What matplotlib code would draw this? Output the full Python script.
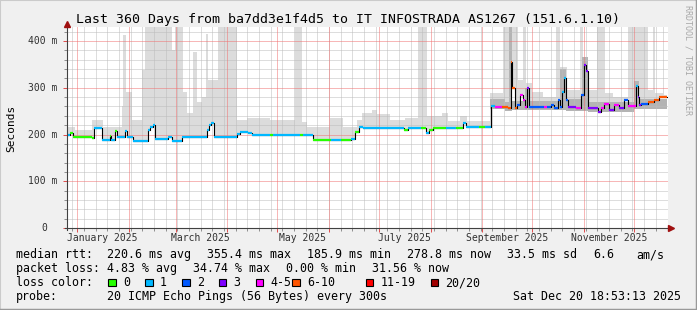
import datetime as dt

import matplotlib

matplotlib.use("Agg")
import matplotlib.pyplot as plt
import numpy as np
from matplotlib.lines import Line2D
from matplotlib.patches import Rectangle

W, H, DPI = 697, 310, 100
MONO = "DejaVu Sans Mono"

# ---- data (day numbers counted from 2025-01-01) ----
END = 353.79            # Sat Dec 20 18:53:13 2025
START = END - 360.0

LOSS_COLORS = ["#26ff00", "#00b8ff", "#0059ff", "#7e00ff", "#ff00ff", "#ff5500", "#ff0000", "#a10000"]
LOSS_LABELS = ["0", "1", "2", "3", "4-5", "6-10", "11-19", "20/20"]

# median rtt (ms), step changes, with loss colour index
med_day = [-6.2, -4.4, -2.6, 8.8, 10.0, 13.6, 14.8, 19.6, 20.2, 22.6, 23.8, 28.6, 29.8, 33.4,
           42.4, 43.6, 45.4, 46.6, 54.4, 56.8, 62.8, 77.8, 79.0, 80.2, 82.0, 95.8, 97.6, 102.4,
           104.8, 115.6, 117.4, 133.6, 135.4, 141.2, 152.0, 158.0, 164.0, 166.4, 168.8, 171.2,
           195.8, 198.2, 206.0, 209.0, 210.8, 213.2, 221.0, 227.0, 231.2, 233.0, 240.8, 244.4,
           248.0, 250.4, 254.6, 258.2, 260.0, 260.6, 262.4, 263.6, 265.4, 267.2, 268.4, 269.6,
           270.8, 279.8, 281.6, 284.0, 285.8, 288.2, 289.4, 290.6, 291.8, 293.0, 294.2, 299.0,
           302.0, 303.8, 305.0, 306.2, 312.2, 314.0, 315.8, 318.8, 321.8, 324.8, 327.8, 330.2,
           335.0, 336.2, 336.8, 338.0, 342.2, 345.8, 348.8]
med_ms = [200, 204, 194, 193, 213, 215, 188, 196, 189, 208, 194, 208, 194, 187,
          210, 217, 220, 190, 195, 187, 194, 209, 220, 225, 194, 201, 205, 203,
          198, 198, 198, 198, 198, 188, 189, 188, 190, 206, 217, 215,
          210, 215, 215, 204, 210, 214, 214, 214, 225, 216, 216, 216,
          261, 258, 258, 256, 356, 299, 256, 263, 284, 274, 259, 299,
          258, 259, 259, 263, 256, 274, 259, 290, 320, 274, 258, 256,
          284, 349, 335, 256, 249, 256, 266, 253, 263, 256, 274, 261,
          304, 281, 263, 265, 270, 274, 280]
med_loss = [1, 0, 0, 0, 1, 1, 1, 0, 1, 0, 1, 1, 1, 1,
            1, 1, 1, 1, 1, 1, 1, 1, 1, 1, 1, 1, 1, 1,
            1, 0, 1, 0, 1, 0, 1, 0, 1, 0, 1, 1,
            0, 1, 0, 1, 0, 0, 1, 0, 1, 1, 0, 1,
            1, 4, 5, 5, 5, 5, 5, 2, 4, 4, 4, 3,
            2, 4, 2, 2, 2, 2, 2, 1, 1, 2, 3, 4,
            2, 3, 3, 3, 3, 4, 4, 3, 4, 3, 2, 4,
            1, 3, 3, 2, 5, 5, 5]

# smoke: highest ping per step (ms), 430 = off the top
smoke_day = [-6.2, -5.5, -1.4, 8.8, 15.4, 26.8, 27.4, 29.2, 32.8, 38.8, 40.6, 56.8, 58.6,
             63.4, 65.8, 69.4, 71.8, 74.8, 77.2, 78.4, 84.6, 95.8, 101.8, 115.6, 130.6, 134.8,
             137.8, 151.6, 159.4, 167.8, 170.8, 176.8, 179.8, 187.6, 196.6, 204.4, 209.8, 218.8,
             222.4, 229.6, 233.8, 247.6, 255.4, 264.4, 267.4, 269.2, 272.8, 279.4, 287.2, 289.6,
             293.8, 301.6, 303.4, 305.8, 311.8, 316.6, 321.4, 330.4, 342.4, 345.4, 346.6, 351.4,
             352.0]
smoke_hi = [352, 217, 210, 231, 217, 260, 413, 290, 231, 338, 430, 380, 430,
            292, 245, 377, 270, 281, 416, 317, 430, 231, 235, 232, 430, 226,
            217, 235, 217, 230, 245, 253, 243, 231, 235, 430, 239, 245,
            229, 239, 229, 288, 430, 317, 430, 310, 292, 281, 430, 345,
            295, 430, 356, 295, 430, 288, 281, 430, 295, 430, 288, 430,
            284]

# darker smoke band (most pings), 0 = none
dark_day = [-6.2, 63.4, 65.8, 247.6, 256.6, 259.0, 260.8, 268.4, 270.8, 289.6, 293.4, 302.8,
            306.4, 334.0, 336.8]
dark_lo = [0, 190, 0, 255, 250, 250, 252, 252, 252, 252, 250, 250, 248, 255, 255]
dark_hi = [0, 292, 0, 275, 270, 430, 272, 300, 272, 340, 275, 365, 270, 315, 275]

y_ticks = [0, 100, 200, 300, 400]
y_labels = ["0", "100 m", "200 m", "300 m", "400 m"]
x_label_months = [1, 3, 5, 7, 9, 11]

legend_rows = [
    ["median rtt:", "220.6 ms avg", "355.4 ms max", "185.9 ms min", "278.8 ms now", "33.5 ms sd", "6.6", "am/s"],
    ["packet loss:", "4.83 % avg", "34.74 % max", "0.00 % min", "31.56 % now"],
    ["loss color:"],
    ["probe:", "20 ICMP Echo Pings (56 Bytes) every 300s", "Sat Dec 20 18:53:13 2025"],
]
# left edge (px) of every legend item
legend_x = [
    [16, 107.3, 207.3, 307.3, 407.3, 507.3, 593.3, 636],
    [16, 107.3, 193.3, 286.3, 372.3],
    [16],
    [16, 107.3, 513],
]
legend_y = [254.5, 268.5, 282.5, 296.5]


def doy(month, day=1):
    return (dt.date(2025, month, day) - dt.date(2025, 1, 1)).days


def step_at(days, vals, grid):
    idx = np.searchsorted(np.asarray(days), grid, side="right") - 1
    return np.asarray(vals, dtype=float)[np.clip(idx, 0, None)]


def fx(x):
    return x / W


def fy(y):
    return 1 - y / H


fig = plt.figure(figsize=(W / DPI, H / DPI), dpi=DPI, facecolor="#f0f0f0")
ax = fig.add_axes([fx(67), fy(228), (668 - 67) / W, (228 - 27) / H])
ax.set_facecolor("white")
ax.set_xlim(START, START + 360.6)
ax.set_ylim(0, 430)
for s in ax.spines.values():
    s.set_visible(False)

# smoke
grid = np.array(sorted(set(med_day + smoke_day + dark_day + [END])))
med_g = step_at(med_day, med_ms, grid)
hi_g = np.maximum(step_at(smoke_day, smoke_hi, grid), med_g)
ax.fill_between(grid, med_g - 2, hi_g, step="post", color="#dcdcdc", lw=0, zorder=1)
dlo = step_at(dark_day, dark_lo, grid)
dhi = step_at(dark_day, dark_hi, grid)
ax.fill_between(grid, dlo, dhi, where=dhi > dlo, step="post", color="#b4b4b4", lw=0, zorder=1.2)

# dotted grid
dots = (0, (1, 1))
months = [doy(m) for m in range(1, 13)]
sundays = np.arange(-3, END, 7)
for d in sundays:
    ax.axvline(d, color="#bcbcbc", lw=0.72, ls=dots, zorder=2)
for v in range(20, 430, 20):
    if v % 100:
        ax.axhline(v, color="#bcbcbc", lw=0.72, ls=dots, zorder=2)
for d in months:
    ax.axvline(d, color="#f07070", lw=0.72, ls=dots, zorder=2.1)
for v in y_ticks[1:]:
    ax.axhline(v, color="#f07070", lw=0.72, ls=dots, zorder=2.1)

# median line
edges = med_day + [END]
ax.step(edges, med_ms + [med_ms[-1]], where="post", color="black", lw=0.8, zorder=3)
for i, m in enumerate(med_ms):
    ax.plot([edges[i], edges[i + 1]], [m, m], color=LOSS_COLORS[med_loss[i]], lw=1.6,
            solid_capstyle="butt", zorder=4)

# ticks
ax.set_xticks(months)
ax.set_xticklabels([])
ax.set_xticks(sundays, minor=True)
ax.set_yticks(y_ticks)
ax.set_yticklabels([])
ax.set_yticks([v for v in range(20, 430, 20) if v % 100], minor=True)
ax.tick_params(which="major", length=3, width=0.72, color="#e05050", direction="out")
ax.tick_params(which="minor", length=2, width=0.72, color="#909090", direction="out")

for v, lab in zip(y_ticks, y_labels):
    x = 57 if v else 47
    fig.text(fx(x), fy(228 - v * 201 / 430), lab, ha="right", va="center",
             family=MONO, fontsize=7, color="#303030")
for m in x_label_months:
    fig.text(fx(67 + (doy(m, 16) - START) * 600 / 360), fy(238), dt.date(2025, m, 1).strftime("%B %Y"),
             ha="center", va="center", family=MONO, fontsize=7, color="#303030")

# axes with arrows
fig.add_artist(Line2D([fx(67), fx(67)], [fy(230), fy(25)], color="#404040", lw=0.8))
fig.add_artist(Line2D([fx(65), fx(670)], [fy(228), fy(228)], color="#404040", lw=0.8))
fig.add_artist(Line2D([fx(67)], [fy(24)], marker="^", ms=4.5, color="#a01010", lw=0))
fig.add_artist(Line2D([fx(671)], [fy(228)], marker=">", ms=4.5, color="#a01010", lw=0))

# texts
fig.text(0.5, fy(19), "Last 360 Days from ba7dd3e1f4d5 to IT INFOSTRADA AS1267 (151.6.1.10)",
         ha="center", va="center", family=MONO, fontsize=9.5, color="black")
fig.text(fx(11), fy(128), "Seconds", rotation=90, ha="center", va="center",
         family=MONO, fontsize=8, color="black")
fig.text(fx(688), fy(5), "RRDTOOL / TOBI OETIKER", rotation=270, ha="center", va="top",
         family=MONO, fontsize=6, color="#a8a8a8")

for y, items, xs in zip(legend_y, legend_rows, legend_x):
    for x, s in zip(xs, items):
        fig.text(fx(x), fy(y), s, ha="left", va="center", family=MONO, fontsize=8.4, color="black")

box_x = [108, 145, 182, 218.5, 255.5, 292, 365.5, 430.5]
for bx, col, lab in zip(box_x, LOSS_COLORS, LOSS_LABELS):
    fig.add_artist(Rectangle((fx(bx), fy(286)), 7.5 / W, 7.5 / H, facecolor=col,
                             edgecolor="black", lw=0.8))
    fig.text(fx(bx + 15), fy(legend_y[2]), lab, ha="left", va="center", family=MONO, fontsize=8.4)

# frame shading
fig.add_artist(Line2D([0, 0, 1], [0, 1, 1], color="#cbcbcb", lw=1.5))
fig.add_artist(Line2D([0, 1, 1], [0, 0, 1], color="#999999", lw=2.5))

fig.savefig("out.png", dpi=DPI, facecolor=fig.get_facecolor())
